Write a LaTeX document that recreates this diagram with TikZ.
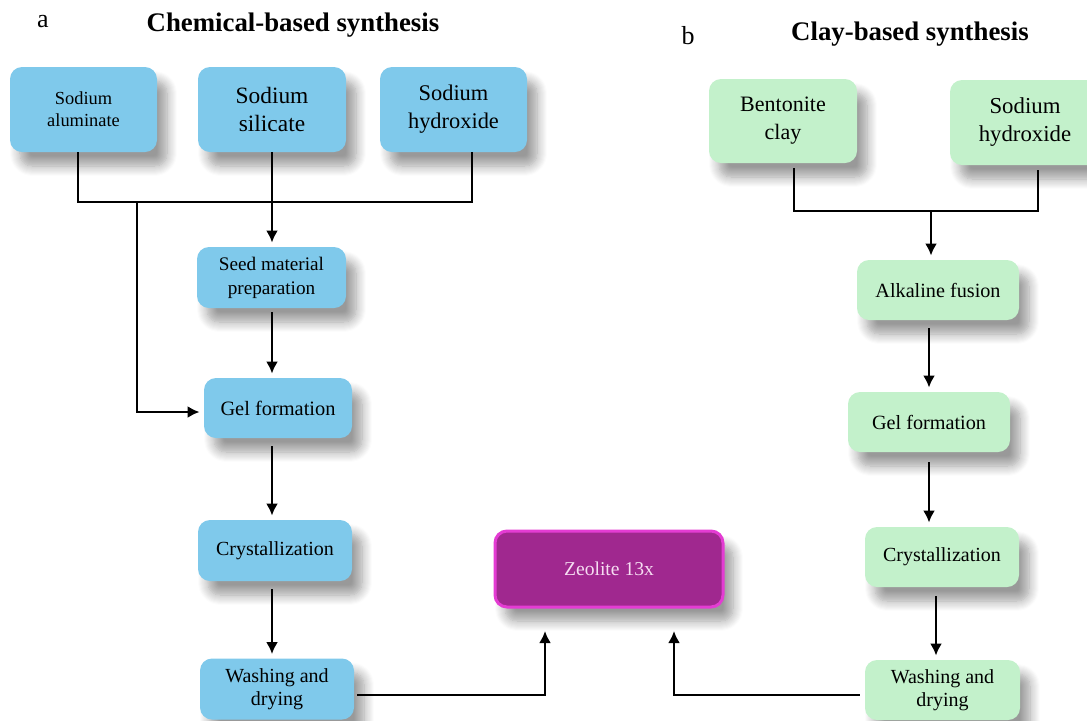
\documentclass[tikz,border=0pt]{standalone}
\usepackage{fontspec}
\setmainfont{Liberation Serif}
\usepackage{tikz}
\usetikzlibrary{calc,arrows.meta,positioning,shadows.blur}

\definecolor{boxblue}{HTML}{7FC9EB}
\definecolor{boxgreen}{HTML}{C3F1CB}
\definecolor{zeofill}{HTML}{A0288F}
\definecolor{zeoedge}{HTML}{E43CD3}
\definecolor{zeotext}{HTML}{F6DDF2}

\tikzset{
  stepnode/.style={rounded corners=6pt, inner sep=0pt, align=center,
    blur shadow={shadow xshift=5pt, shadow yshift=-7pt, shadow blur radius=5pt, shadow blur steps=10, shadow opacity=40}},
  bluebox/.style={stepnode, fill=boxblue},
  greenbox/.style={stepnode, fill=boxgreen},
  link/.style={line width=1.2pt, black},
  flow/.style={link, -{Latex[length=6pt,width=6pt]}, shorten >=2pt},
  ttl/.style={font=\fontsize{13.4}{15}\selectfont\bfseries},
}

\begin{document}
\begin{tikzpicture}[x=0.5pt,y=-0.5pt]
  \useasboundingbox (0,0) rectangle (1087,720);
  % titles
  \node[font=\fontsize{13}{15}\selectfont] (labela) at (43,22) {a};
  \node[ttl] (ttla) at (293,25) {Chemical-based synthesis};
  \node[font=\fontsize{13}{15}\selectfont] (labelb) at (688,36) {b};
  \node[ttl] (ttlb) at (910,34) {Clay-based synthesis};

  % chemical route
  \node[bluebox, minimum width=73.5pt, minimum height=42.5pt, font=\fontsize{9.2}{11}\selectfont] (alum) at (83.5,109.5) {Sodium\\aluminate};
  \node[bluebox, minimum width=74pt, minimum height=42.5pt, font=\fontsize{11.7}{14}\selectfont] (sili) at (272,109.5) {Sodium\\silicate};
  \node[bluebox, minimum width=73.5pt, minimum height=42.5pt, font=\fontsize{11.2}{14}\selectfont] (hydx) at (453.5,109.5) {Sodium\\hydroxide};
  \node[bluebox, minimum width=74.5pt, minimum height=30.5pt, font=\fontsize{9.6}{12}\selectfont] (seed) at (271.5,277.5) {Seed material\\preparation};
  \node[bluebox, minimum width=74pt, minimum height=30pt, font=\fontsize{10.2}{12}\selectfont] (gel) at (278,408) {Gel formation};
  \node[bluebox, minimum width=77pt, minimum height=30.5pt, font=\fontsize{10}{12}\selectfont] (cry) at (275,550.5) {Crystallization};
  \node[bluebox, minimum width=77pt, minimum height=30.5pt, font=\fontsize{10}{11.5}\selectfont] (wash) at (277,689) {Washing and\\drying};

  % product
  \node[stepnode, fill=zeofill, draw=zeoedge, line width=1.5pt, text=zeotext,
        minimum width=114pt, minimum height=38pt, font=\fontsize{9.8}{12}\selectfont] (zeo) at (609,569) {Zeolite 13x};

  % clay route
  \node[greenbox, minimum width=74pt, minimum height=42pt, font=\fontsize{11}{14}\selectfont] (bent) at (783,121) {Bentonite\\clay};
  \node[greenbox, minimum width=75pt, minimum height=42.5pt, font=\fontsize{11.4}{14}\selectfont] (hydr) at (1025,122.5) {Sodium\\hydroxide};
  \node[greenbox, minimum width=81pt, minimum height=30pt, font=\fontsize{10.1}{12}\selectfont] (alk) at (938,290) {Alkaline fusion};
  \node[greenbox, minimum width=81pt, minimum height=30pt, font=\fontsize{10.1}{12}\selectfont] (gelr) at (929,422) {Gel formation};
  \node[greenbox, minimum width=77pt, minimum height=30pt, font=\fontsize{10}{12}\selectfont] (cryr) at (942,557) {Crystallization};
  \node[greenbox, minimum width=77.5pt, minimum height=30pt, font=\fontsize{10}{11.5}\selectfont] (washr) at (942.5,690) {Washing and\\drying};

  % junction points
  \coordinate (busl) at (78,202);
  \coordinate (busr) at (472,202);
  \coordinate (brn) at (137,202);
  \coordinate (rbusl) at (794,211);
  \coordinate (rbusr) at (1038,211);
  \coordinate (rmid) at (931,211);
  \coordinate (zeol) at (545,627);
  \coordinate (zeor) at (674,627);
  \coordinate (cryd) at (936,587);

  % chemical connectors
  \draw[link] (alum.south -| busl) -- (busl) -- (busr) -- (hydx.south -| busr);
  \draw[flow] (sili.south) -- (seed.north -| sili.south);
  \draw[flow] (brn) |- ([yshift=-2pt]gel.west);
  \draw[flow, shorten <=2pt] (seed.south -| sili.south) -- (gel.north -| sili.south);
  \draw[flow, shorten <=4pt] (gel.south -| sili.south) -- (cry.north -| sili.south);
  \draw[flow, shorten <=4pt] (cry.south -| sili.south) -- (wash.north -| sili.south);
  \draw[flow, shorten <=1.5pt] ([yshift=-3pt]wash.east) -| (zeol);

  % clay connectors
  \draw[link, shorten <=2.5pt, shorten >=2.5pt] (bent.south -| rbusl) -- (rbusl) -- (rbusr) -- (hydr.south -| rbusr);
  \draw[flow] (rmid) -- (alk.north -| rmid);
  \draw[flow, shorten <=4pt] (alk.south -| gelr) -- (gelr.north);
  \draw[flow, shorten <=5pt] (gelr.south) -- (cryr.north -| gelr.south);
  \draw[flow, shorten <=4.5pt] (cryd) -- (washr.north -| cryd);
  \draw[flow, shorten <=2.5pt] ([yshift=-2.5pt]washr.west) -| (zeor);
\end{tikzpicture}
\end{document}
